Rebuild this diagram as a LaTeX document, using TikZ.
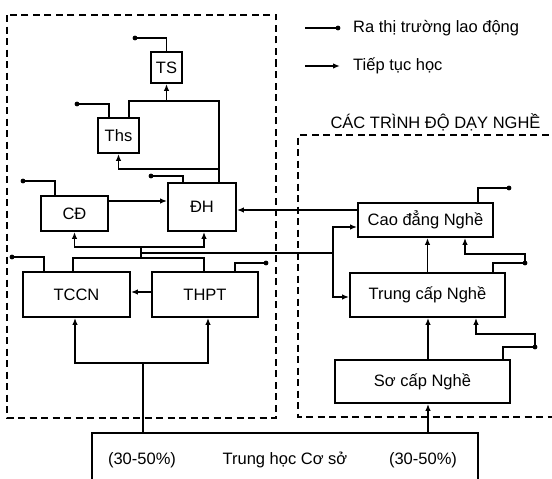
\documentclass[tikz,border=0pt]{standalone}
\usepackage{fontspec}
\setmainfont{Liberation Sans}
\usepackage{tikz}
\usetikzlibrary{arrows.meta, positioning, calc}

\begin{document}
\begin{tikzpicture}[x=1pt, y=-1pt, line width=1.8pt,
    font=\fontsize{16.5}{19}\selectfont,
    box/.style={draw, inner sep=0pt},
    arr/.style={-{Latex[length=7pt,width=5.5pt]}},
    dashbox/.style={dash pattern=on 7pt off 4.5pt}]
    \useasboundingbox (0,0) rectangle (552,479);
    \clip (0,0) rectangle (552,479);

    % Dashed frames
    \draw[dashbox] (7,15) rectangle (276,418);
    \draw[dashbox] (560,135) -| (298,417) -- (560,417);

    % Legend and title
    \node[anchor=west] (legout) at (349,28) {Ra thị trường lao động};
    \node[anchor=west] (legarr) at (349,66) {Tiếp tục học};
    \coordinate (legdot) at ([xshift=-11pt]legout.west);
    \draw ([xshift=-44pt]legout.west) -- (legdot);
    \draw[arr] ([xshift=-44pt]legarr.west) -- ([xshift=-9pt]legarr.west);
    \node (title) at (435.5,122) {CÁC TRÌNH ĐỘ DẠY NGHỀ};

    % Boxes
    \node[box, minimum width=31pt, minimum height=31pt] (ts) at (166.5,67.5) {TS};
    \node[box, minimum width=41pt, minimum height=35pt] (ths) at (118.5,135.5) {Ths};
    \node[box, minimum width=68pt, minimum height=48pt] (dh) at (202,207) {ĐH};
    \node[box, minimum width=67pt, minimum height=35pt] (cd) at (74.5,213.5) {CĐ};
    \node[box, minimum width=107pt, minimum height=45pt] (tccn) at (76.5,294.5) {TCCN};
    \node[box, minimum width=106pt, minimum height=45pt] (thpt) at (205,294.5) {THPT};
    \node[box, minimum width=135pt, minimum height=34pt] (cdn) at (425.5,220) {Cao đẳng Nghề};
    \node[box, minimum width=155pt, minimum height=44pt] (tcn) at (427.5,295) {Trung cấp Nghề};
    \node[box, minimum width=175pt, minimum height=43pt] (scn) at (422.5,381.5) {Sơ cấp Nghề};
    \node[box, minimum width=386pt, minimum height=54pt] (thcs) at (285,460) {Trung học Cơ sở};
    \node (pctl) at (142,460) {(30-50\%)};
    \node (pctr) at (423,460) {(30-50\%)};

    % Labour market outputs
    \coordinate (tsout) at (135,38);
    \coordinate (thsout) at (77,104);
    \coordinate (dhout) at (151,176);
    \coordinate (cdout) at (23,181);
    \coordinate (tccnout) at (12,257);
    \coordinate (thptout) at (266,263);
    \coordinate (cdnout) at (509,188);
    \coordinate (tcnout) at (525,263);
    \coordinate (scnout) at (535,347);
    \draw (ts.north) |- (tsout);
    \draw ([xshift=-9.5pt]ths.north) |- (thsout);
    \draw ([xshift=-19pt]dh.north) |- (dhout);
    \draw ([xshift=-19.5pt]cd.north) |- (cdout);
    \draw ([xshift=-32.5pt]tccn.north) |- (tccnout);
    \draw ([xshift=30pt]thpt.north) |- (thptout);
    \draw ([xshift=52.5pt]cdn.north) |- (cdnout);
    \draw ([xshift=65.5pt]tcn.north) |- (tcnout);
    \draw ([xshift=80.5pt]scn.north) |- (scnout);
    \foreach \p in {legdot,tsout,thsout,dhout,cdout,tccnout,thptout,cdnout,tcnout,scnout}
        \fill (\p) circle (2.4pt);

    % Upper part: DH -> Ths -> TS
    \coordinate (topbus) at (219,101);
    \draw ([xshift=17pt]dh.north) |- (topbus) -| ([xshift=10.5pt]ths.north);
    \draw[arr] (ts.south |- topbus) -- (ts.south);
    \draw[arr] ([xshift=17pt,yshift=13pt]dh.north) -| (ths.south);
    \draw[arr] ([yshift=12.5pt]cd.east) -- ([yshift=12.5pt]cd.east -| dh.west);
    \draw[arr] ([yshift=10pt]cdn.west) -- ([yshift=10pt]cdn.west -| dh.east);

    % Middle bus from TCCN / THPT
    \coordinate (busa) at (141,258);
    \coordinate (busb) at (141,247);
    \coordinate (vbus) at (333,253);
    \draw ([xshift=-3.5pt]tccn.north) |- (busa) -| ([xshift=-1pt]thpt.north);
    \draw (busa) -- (busb);
    \draw[arr] (busb) -| (cd.south);
    \draw[arr] (busb) -| ([xshift=2pt]dh.south);
    \draw (busa |- vbus) -- (vbus);
    \draw[arr] (vbus) |- ([yshift=-7pt]cdn.west);
    \draw[arr] (vbus) |- ([yshift=-2pt]tcn.west);
    \draw[arr] ([yshift=2.5pt]thpt.west) -- ([yshift=2.5pt]thpt.west -| tccn.east);

    % Lower bus from Trung hoc Co so
    \coordinate (lowbus) at (143,363);
    \draw (lowbus |- thcs.north) -- (lowbus);
    \draw[arr] (lowbus) -| ([xshift=-1.5pt]tccn.south);
    \draw[arr] (lowbus) -| ([xshift=3pt]thpt.south);

    % Vocational ladder
    \draw[arr] ([xshift=5.5pt]scn.south |- thcs.north) -- ([xshift=5.5pt]scn.south);
    \draw[arr] ([xshift=5.5pt]scn.north) -- ([xshift=5.5pt]scn.north |- tcn.south);
    \draw[arr] (tcn.north) -- (tcn.north |- cdn.south);
    \draw[arr] (scnout) -- ++(0,-13) -| ([xshift=48.5pt]tcn.south);
    \draw[arr] (tcnout) -- ++(0,-9) -| ([xshift=39.5pt]cdn.south);
\end{tikzpicture}
\end{document}
